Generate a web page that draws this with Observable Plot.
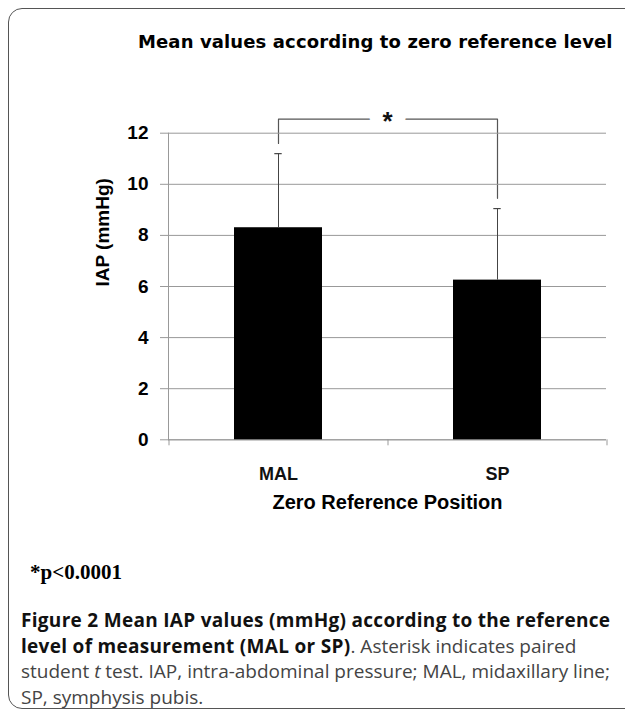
<!DOCTYPE html>
<html>
<head>
<meta charset="utf-8">
<script src="https://cdn.jsdelivr.net/npm/d3@7"></script>
<script src="https://cdn.jsdelivr.net/npm/@observablehq/plot@0.6"></script>
<style>
  html, body { margin: 0; padding: 0; background: #fff; }
  #wrap { position: relative; width: 625px; height: 713px; overflow: hidden; background: #fff; }
  #border { position: absolute; left: 8px; top: 8px; width: 660px; height: 701px; border: 1.5px solid #555; border-radius: 14px; box-sizing: border-box; }
  #title { position: absolute; left: 138px; top: 31px; font: bold 18px "DejaVu Sans", sans-serif; line-height: 21px; letter-spacing: 0.12px; white-space: nowrap; color: #000; }
  #chart { position: absolute; left: 0; top: 60px; }
  #foot { position: absolute; left: 30px; top: 560px; font: bold 21px "Liberation Serif", serif; white-space: nowrap; color: #000; }
  #caption { position: absolute; left: 21px; top: 608px; font: 19px "Open Sans", sans-serif; line-height: 25.5px; white-space: nowrap; color: #444; }
  #caption b { color: #111; letter-spacing: 0.3px; }
</style>
</head>
<body>
<div id="wrap">
  <div id="border"></div>
  <div id="title"></div>
  <div id="chart"></div>
  <div id="foot"></div>
  <div id="caption"></div>
</div>
<script>
// ---- data ----
const categories = ["MAL", "SP"];
const means = [8.3, 6.25];
const sds = [2.9, 2.8];
const yTicks = [0, 2, 4, 6, 8, 10, 12];
const bracketLevels = [11.6, 12.55, 12.55, 9.45]; // bracket drawn from MAL to SP
const titleText = "Mean values according to zero reference level";
const xLabel = "Zero Reference Position";
const yLabel = "IAP (mmHg)";
const sigMark = "*";
const footText = "*p<0.0001";

const data = categories.map((c, i) => ({cat: c, mean: means[i], sd: sds[i]}));
const bracket = [
  {cat: categories[0], v: bracketLevels[0]},
  {cat: categories[0], v: bracketLevels[1]},
  {cat: categories[1], v: bracketLevels[2]},
  {cat: categories[1], v: bracketLevels[3]}
];

// ---- layout ----
const W = 625, H = 470;
const mL = 168, mR = 19, mT = 72.7, mB = 90.7;
const pIn = 0.6, pOut = 0.3;
const step = (W - mL - mR) / (categories.length - pIn + 2 * pOut);
const bw = step * (1 - pIn);
const capW = 7;
const grid = "#999";

document.getElementById("title").textContent = titleText;
document.getElementById("foot").textContent = footText;
document.getElementById("caption").innerHTML =
  "<b>Figure 2 Mean IAP values (mmHg) according to the reference</b><br>" +
  "<b>level of measurement (MAL or SP)</b>. Asterisk indicates paired<br>" +
  "student <i>t</i> test. IAP, intra-abdominal pressure; MAL, midaxillary line;<br>" +
  "SP, symphysis pubis.";

const chart = Plot.plot({
  width: W,
  height: H,
  marginLeft: mL,
  marginRight: mR,
  marginTop: mT,
  marginBottom: mB,
  style: {background: "transparent", fontFamily: "'Liberation Sans', Arial, sans-serif", overflow: "visible"},
  x: {type: "band", domain: categories, paddingInner: pIn, paddingOuter: pOut, align: 0.5},
  y: {domain: [0, 12]},
  marks: [
    // significance bracket
    Plot.line(bracket, {x: "cat", y: "v", stroke: "#555", strokeWidth: 1.2}),
    Plot.text([{t: sigMark, v: bracketLevels[1]}], {
      y: "v", text: "t", fontSize: 26, fontWeight: "bold", fill: "#111",
      stroke: "white", strokeWidth: 26, paintOrder: "stroke", dy: 3
    }),
    Plot.gridY(yTicks, {stroke: grid, strokeOpacity: 1, strokeWidth: 1}),
    Plot.frame({anchor: "left", stroke: grid}),
    Plot.ruleY([0], {stroke: grid}),
    // category boundary ticks below the baseline
    Plot.ruleX(categories, {x: d => d, y1: 0, y2: 0, insetBottom: -6, dx: -step / 2, stroke: grid}),
    Plot.ruleX(categories.slice(-1), {x: d => d, y1: 0, y2: 0, insetBottom: -6, dx: step / 2, stroke: grid}),
    // bars
    Plot.barY(data, {x: "cat", y: "mean", fill: "black"}),
    // error bars
    Plot.ruleX(data, {x: "cat", y1: "mean", y2: d => d.mean + d.sd, stroke: "#444", strokeWidth: 1}),
    Plot.tickY(data, {x: "cat", y: d => d.mean + d.sd, stroke: "#444", strokeWidth: 1.2,
      insetLeft: (bw - capW) / 2, insetRight: (bw - capW) / 2}),
    // axes
    Plot.axisY(yTicks, {tickSize: 8, tickPadding: 12, stroke: grid, fill: "#000",
      fontSize: 19, fontWeight: "bold", label: null}),
    Plot.axisX({tickSize: 0, tickPadding: 27, fontSize: 18, fontWeight: "bold", fill: "#111", label: null}),
    Plot.text([xLabel], {frameAnchor: "bottom", dy: 69, fontSize: 20, fontWeight: "bold", fill: "#000"}),
    Plot.text([yLabel], {frameAnchor: "left", dx: -66, rotate: -90, fontSize: 19, fontWeight: "bold", fill: "#000"})
  ]
});
document.getElementById("chart").appendChild(chart);
</script>
</body>
</html>
